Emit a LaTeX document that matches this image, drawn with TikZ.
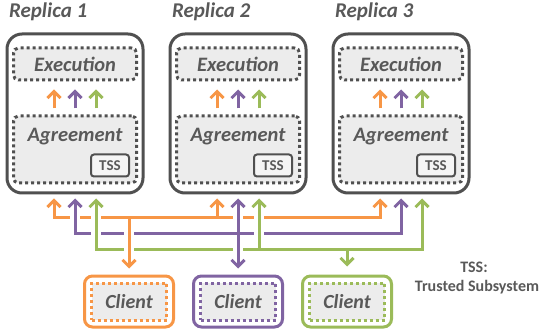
\documentclass[tikz,border=0pt]{standalone}
\usepackage{fontspec}
\setmainfont{Carlito}
\usetikzlibrary{arrows.meta,calc}

\definecolor{txtgray}{HTML}{595959}
\definecolor{boxgray}{HTML}{505050}
\definecolor{fillgray}{HTML}{ECECEC}
\definecolor{orng}{HTML}{F79646}
\definecolor{purp}{HTML}{8064A2}
\definecolor{grn}{HTML}{9BBB59}

\tikzset{
  wtip/.tip={Straight Barb[length=6.5pt,width=13pt]},
  replica/.style={draw=boxgray, line width=3pt, rounded corners=15pt,
    minimum width=136pt, minimum height=159pt},
  inbox/.style={draw=boxgray, line width=3pt, dash pattern=on 3pt off 3pt,
    fill=fillgray, rounded corners=5pt, minimum width=123pt},
  tssbox/.style={draw=boxgray, line width=2pt, fill=fillgray!50, rounded corners=3pt,
    minimum width=38pt, minimum height=22pt, inner sep=0pt, text=txtgray,
    font=\fontsize{15}{17}\selectfont\bfseries},
  title/.style={text=txtgray, font=\fontsize{21}{24}\selectfont\bfseries\itshape},
  boxtext/.style={text=txtgray, font=\fontsize{20.5}{24}\selectfont\bfseries\itshape},
  note/.style={text=txtgray, font=\fontsize{16}{18}\selectfont\bfseries},
  client/.style={draw=#1, line width=3pt, fill=white, rounded corners=8pt,
    minimum width=89pt, minimum height=51pt},
  clientin/.style={draw=#1, line width=3pt, dash pattern=on 3pt off 3pt,
    fill=fillgray, minimum width=75pt, minimum height=37pt, text=txtgray,
    font=\fontsize{20}{24}\selectfont\bfseries\itshape},
  wire/.style={draw=#1, line width=3pt},
  gap/.style={preaction={draw=white, line width=10pt, -, shorten <=#1}},
  gap/.default=0pt,
}

\begin{document}
\begin{tikzpicture}[x=1pt,y=-1pt]
\useasboundingbox (0,0) rectangle (542,329);

% replicas
\node[replica] (r1) at (75,113.5) {};
\node[replica] (r2) at (238,113.5) {};
\node[replica] (r3) at (401,113.5) {};
\node[title, anchor=base west] (l1) at ($(r1.north west)+(0,-15)$) {Replica 1};
\node[title, anchor=base west] (l2) at ($(r2.north west)+(0,-15)$) {Replica 2};
\node[title, anchor=base west] (l3) at ($(r3.north west)+(0,-15)$) {Replica 3};

\node[inbox, minimum height=32pt] (e1) at ($(r1.center)+(0,-49.5)$) {};
\node[inbox, minimum height=32pt] (e2) at ($(r2.center)+(0,-49.5)$) {};
\node[inbox, minimum height=32pt] (e3) at ($(r3.center)+(0,-49.5)$) {};
\node[boxtext] (et1) at (e1) {Execution};
\node[boxtext] (et2) at (e2) {Execution};
\node[boxtext] (et3) at (e3) {Execution};

\node[inbox, minimum height=67pt] (a1) at ($(r1.center)+(0,36)$) {};
\node[inbox, minimum height=67pt] (a2) at ($(r2.center)+(0,36)$) {};
\node[inbox, minimum height=67pt] (a3) at ($(r3.center)+(0,36)$) {};
\node[boxtext] (at1) at ($(a1.center)+(0,-12.5)$) {Agreement};
\node[boxtext] (at2) at ($(a2.center)+(0,-12.5)$) {Agreement};
\node[boxtext] (at3) at ($(a3.center)+(0,-12.5)$) {Agreement};
\node[tssbox] (t1) at ($(a1.south east)+(-28,-19)$) {TSS};
\node[tssbox] (t2) at ($(a2.south east)+(-28,-19)$) {TSS};
\node[tssbox] (t3) at ($(a3.south east)+(-28,-19)$) {TSS};

% agreement -> execution
\draw[wire=orng, -wtip] ($(a1.north)+(-21,-6)$) -- ($(e1.south)+(-21,8)$);
\draw[wire=purp, -wtip] ($(a1.north)+(0,-6)$) -- ($(e1.south)+(0,8)$);
\draw[wire=grn, -wtip] ($(a1.north)+(21,-6)$) -- ($(e1.south)+(21,8)$);
\draw[wire=orng, -wtip] ($(a2.north)+(-21,-6)$) -- ($(e2.south)+(-21,8)$);
\draw[wire=purp, -wtip] ($(a2.north)+(0,-6)$) -- ($(e2.south)+(0,8)$);
\draw[wire=grn, -wtip] ($(a2.north)+(21,-6)$) -- ($(e2.south)+(21,8)$);
\draw[wire=orng, -wtip] ($(a3.north)+(-21,-6)$) -- ($(e3.south)+(-21,8)$);
\draw[wire=purp, -wtip] ($(a3.north)+(0,-6)$) -- ($(e3.south)+(0,8)$);
\draw[wire=grn, -wtip] ($(a3.north)+(21,-6)$) -- ($(e3.south)+(21,8)$);

% clients
\node[client=orng] (c1) at (129,301.5) {};
\node[client=purp] (c2) at (238,301.5) {};
\node[client=grn] (c3) at (347,301.5) {};
\node[clientin=orng] (ci1) at (c1) {Client};
\node[clientin=purp] (ci2) at (c2) {Client};
\node[clientin=grn] (ci3) at (c3) {Client};

\node[note] (tss) at (474,267) {TSS:};
\node[note] (tssdef) at (477,287) {Trusted Subsystem};

% message buses
\coordinate (o1) at ($(r1.south)+(-21,4)$);
\coordinate (p1) at ($(r1.south)+(0,4)$);
\coordinate (g1) at ($(r1.south)+(21,4)$);
\coordinate (o2) at ($(r2.south)+(-21,4)$);
\coordinate (p2) at ($(r2.south)+(0,4)$);
\coordinate (g2) at ($(r2.south)+(21,4)$);
\coordinate (o3) at ($(r3.south)+(-21,4)$);
\coordinate (p3) at ($(r3.south)+(0,4)$);
\coordinate (g3) at ($(r3.south)+(21,4)$);
\coordinate (obus) at (0,218);
\coordinate (pbus) at (0,234);
\coordinate (gbus) at (0,250);

\draw[wire=orng, gap, wtip-wtip] (o1) -- (o1 |- obus) -- (o3 |- obus) -- (o3);
\draw[wire=purp, gap, wtip-wtip] (p1) -- (p1 |- pbus) -- (p3 |- pbus) -- (p3);
\draw[wire=grn, gap, wtip-wtip] (g1) -- (g1 |- gbus) -- (g3 |- gbus) -- (g3);

\draw[wire=orng, -wtip] (o2 |- obus) -- (o2);
\draw[wire=orng, gap=5pt, -wtip] (c1.north |- obus) -- ($(c1.north)+(0,-6)$);
\draw[wire=purp, gap=5pt, -wtip] (p2 |- pbus) -- (p2);
\draw[wire=purp, gap=5pt, -wtip] (p2 |- pbus) -- ($(c2.north)+(0,-6)$);
\draw[wire=grn, gap=5pt, -wtip] (g2 |- gbus) -- (g2);
\draw[wire=grn, -wtip] (c3.north |- gbus) -- ($(c3.north)+(0,-8)$);
\end{tikzpicture}
\end{document}
